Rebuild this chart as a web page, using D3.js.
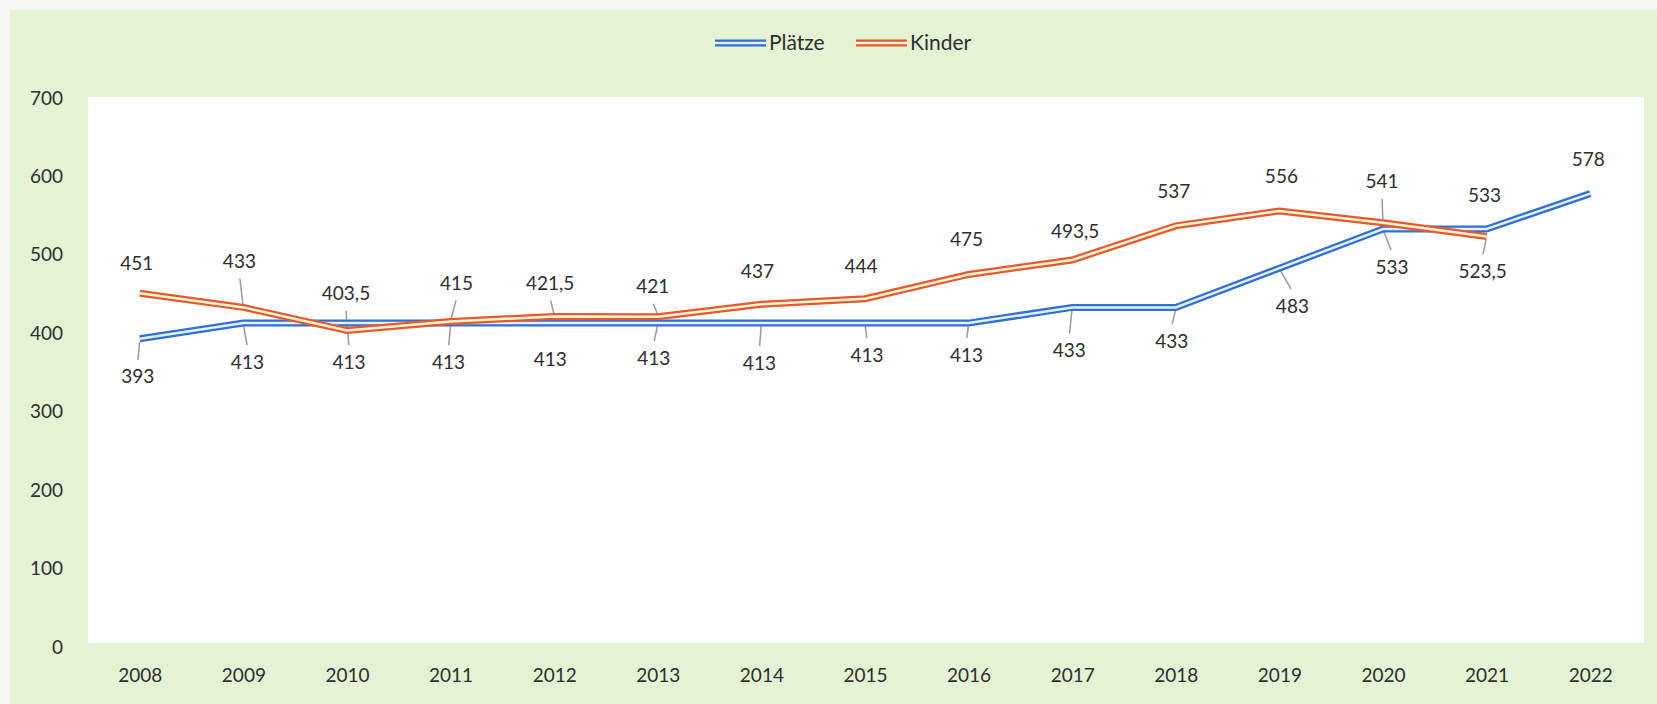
<!DOCTYPE html>
<html>
<head>
<meta charset="utf-8">
<script src="https://cdn.jsdelivr.net/npm/d3@7"></script>
<style>
	html, body { margin: 0; padding: 0; background: #f6f7f3; }
	svg { display: block; }
	text { font-family: Lato, "Open Sans", sans-serif; fill: #2e2e2e; }
</style>
</head>
<body>
<svg id="chart-1" width="1657" height="704"></svg>
<script>
// Data
const years = ['2008','2009','2010','2011','2012','2013','2014','2015','2016','2017','2018','2019','2020','2021','2022'];
const plaetze = [393, 413, 413, 413, 413, 413, 413, 413, 413, 433, 433, 483, 533, 533, 578];
const kinder = [451, 433, 403.5, 415, 421.5, 421, 437, 444, 475, 493.5, 537, 556, 541, 523.5, null];
const yTicks = [0, 100, 200, 300, 400, 500, 600, 700];
const seriesNames = ['Plätze', 'Kinder'];

// Label placement (px shift of each data label from its point) + leader flags
const plaetzeLabelShift = [[-2,38],[4,39],[2,39],[-2,39],[-4,36],[-4,35],[-2,40],[2,32],[-2,32],[-3,43],[-4,34],[13,38],[9,38],[-2,-34],[-2,-34]];
const kinderLabelShift = [[-3,-30],[-4,-46],[-1,-37],[6,-38],[-4,-33],[-5,-30],[-4,-33],[-4,-32],[-2,-35],[3,-29],[-2,-34],[2,-35],[-1,-41],[-4,35],null];
const plaetzeLeader = [1,1,1,1,0,1,1,1,1,1,1,1,1,0,0];
const kinderLeader = [0,1,1,1,1,1,0,0,0,0,0,0,1,1,0];

const W = 1657, H = 704;
const svg = d3.select('svg#chart-1');

const x = d3.scalePoint().domain(years).range([88, 1642]).padding(0.5);
const y = d3.scaleLinear().domain([0, 700]).range([647, 98]);

// background (scanned page: green panel, pale edge on top/left)
svg.append('rect').attr('x', 10).attr('y', 10).attr('width', W - 10).attr('height', H - 10)
	.attr('fill', '#e4f3d4');
svg.append('rect').attr('x', 88).attr('y', y(700) - 1).attr('width', 1556).attr('height', y(0) - 4 - y(700) + 1)
	.attr('fill', '#ffffff');

// axes, no tick marks / domain
const yAxis = svg.append('g')
	.attr('transform', 'translate(88,0)')
	.call(d3.axisLeft(y).tickValues(yTicks).tickSize(0).tickPadding(25));
const xAxis = svg.append('g')
	.attr('transform', `translate(0,${y(0)})`)
	.call(d3.axisBottom(x).tickSize(0).tickPadding(22));
[yAxis, xAxis].forEach(g => {
	g.select('.domain').remove();
	g.selectAll('text').attr('font-size', 19).attr('font-family', 'Lato, "Open Sans", sans-serif').attr('fill', '#2e2e2e');
});

const series = [
	{name: seriesNames[0], values: plaetze, shift: plaetzeLabelShift, leader: plaetzeLeader, color: '#2f6fd6', inner: '#e4f0ff'},
	{name: seriesNames[1], values: kinder, shift: kinderLabelShift, leader: kinderLeader, color: '#e8582e', inner: '#fff6d2'}
];

const line = d3.line()
	.defined(d => d.v != null)
	.x(d => x(d.year))
	.y(d => y(d.v));

const fmt = v => String(v).replace('.', ',');

// leaders under the lines
const leadG = svg.append('g');
series.forEach(s => {
	s.values.forEach((v, i) => {
		if (v == null || !s.leader[i]) return;
		const px = x(years[i]), py = y(v);
		const [dx, dy] = s.shift[i];
		const sg = Math.sign(dy);
		leadG.append('line')
			.attr('x1', px + dx * 0.1).attr('y1', py + sg * 3)
			.attr('x2', px + dx * 0.9).attr('y2', py + dy - sg * 17)
			.attr('stroke', '#9a9a9a').attr('stroke-width', 1.5);
	});
});

// double lines (Excel compound style) = thick colour + thin light core
series.forEach(s => {
	const pts = years.map((year, i) => ({year, v: s.values[i]}));
	svg.append('path').datum(pts)
		.attr('d', line).attr('fill', 'none')
		.attr('stroke', s.color).attr('stroke-width', 7);
	svg.append('path').datum(pts)
		.attr('d', line).attr('fill', 'none')
		.attr('stroke', s.inner).attr('stroke-width', 2.5);
});

// data labels
series.forEach(s => {
	s.values.forEach((v, i) => {
		if (v == null) return;
		const [dx, dy] = s.shift[i];
		svg.append('text')
			.attr('x', x(years[i]) + dx)
			.attr('y', y(v) + dy)
			.attr('dy', '0.35em')
			.attr('text-anchor', 'middle')
			.attr('font-size', 19)
			.text(fmt(v));
	});
});

// legend
const legend = svg.append('g').attr('transform', 'translate(715,43)');
let lx = 0;
series.forEach(s => {
	const g = legend.append('g').attr('transform', `translate(${lx},0)`);
	g.append('line').attr('x1', 0).attr('x2', 51).attr('y1', 0).attr('y2', 0)
		.attr('stroke', s.color).attr('stroke-width', 7);
	g.append('line').attr('x1', 0).attr('x2', 51).attr('y1', 0).attr('y2', 0)
		.attr('stroke', s.inner).attr('stroke-width', 2.5);
	g.append('text').attr('x', 54).attr('dy', '0.35em').attr('font-size', 21).text(s.name);
	lx += 141;
});
</script>
</body>
</html>
